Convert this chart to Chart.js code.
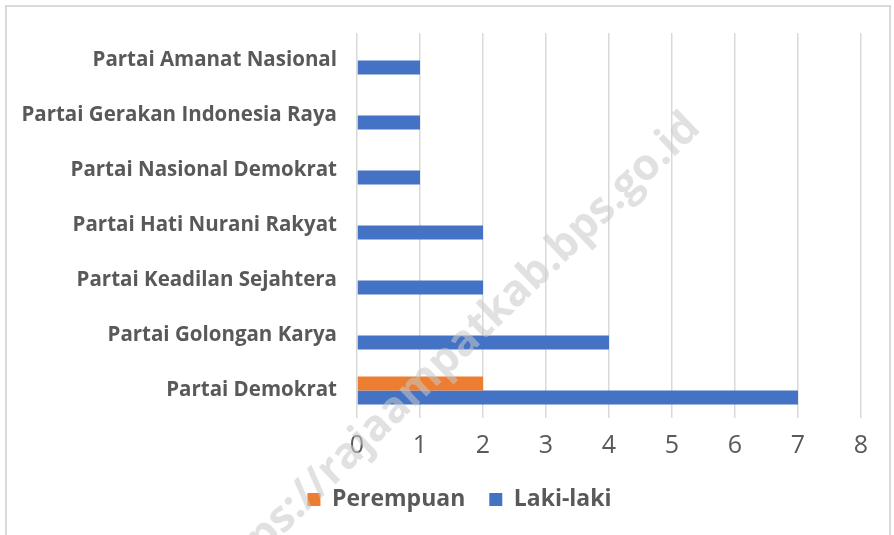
<!DOCTYPE html>
<html lang="id">
<head>
  <meta charset="UTF-8" />
  <title>Anggota DPRD menurut Partai dan Jenis Kelamin</title>
  <script src="https://cdn.jsdelivr.net/npm/chart.js"></script>
  <style>
    body { margin:0; background:#fff; }
    #wrap { position:relative; width:894px; height:535px; overflow:hidden; }
    #frame { position:absolute; left:5px; top:5px; width:886px; height:540px; border:2px solid #d9d9d9; box-sizing:border-box; }
    canvas { position:absolute; left:0; top:0; }
  </style>
</head>
<body>
  <div id="wrap">
    <div id="frame"></div>
    <canvas id="chart" width="894" height="535"></canvas>
  </div>

  <script>
    const partai = [
      'Partai Amanat Nasional',
      'Partai Gerakan Indonesia Raya',
      'Partai Nasional Demokrat',
      'Partai Hati Nurani Rakyat',
      'Partai Keadilan Sejahtera',
      'Partai Golongan Karya',
      'Partai Demokrat'
    ];
    const perempuan = [0, 0, 0, 0, 0, 0, 2];
    const lakiLaki = [1, 1, 1, 2, 2, 4, 7];
    const xTicks = [0, 1, 2, 3, 4, 5, 6, 7, 8];
    const watermark = 'https://rajaampatkab.bps.go.id';

    const grey = '#595959';

    // faint diagonal site stamp drawn over the chart
    const stampPlugin = {
      id: 'stamp',
      beforeDraw(chart) {
        // legend sits a little right of the canvas centre in the original
        chart.legend.left = 58;
      },
      afterDraw(chart) {
        const ctx = chart.ctx;
        ctx.save();
        ctx.font = 'bold 40px "Open Sans"';
        const tail = ctx.measureText('s://rajaampatkab.bps.go.id').width;
        const size = 40 * 583 / tail;
        ctx.font = 'bold ' + size + 'px "Open Sans"';
        ctx.translate(702, 130);
        ctx.rotate(-44 * Math.PI / 180);
        ctx.textAlign = 'right';
        ctx.textBaseline = 'alphabetic';
        ctx.fillStyle = 'rgba(200,200,200,0.55)';
        ctx.fillText(watermark, 0, 0);
        ctx.restore();
      }
    };

    new Chart(document.getElementById('chart'), {
      type: 'bar',
      data: {
        labels: partai,
        datasets: [
          { label: 'Perempuan', data: perempuan, backgroundColor: '#ED7D31' },
          { label: 'Laki-laki', data: lakiLaki, backgroundColor: '#4472C4' }
        ]
      },
      options: {
        indexAxis: 'y',
        responsive: false,
        animation: false,
        datasets: { bar: { categoryPercentage: 0.51, barPercentage: 1 } },
        layout: { padding: { top: 33, right: 33, bottom: 14, left: 0 } },
        scales: {
          x: {
            min: 0, max: 8,
            afterBuildTicks: s => { s.ticks = xTicks.map(v => ({ value: v })); },
            afterFit: s => { s.height = 46; },
            grid: { color: '#d9d9d9', lineWidth: 1.5, drawTicks: false },
            border: { display: false },
            ticks: { color: grey, padding: 13, font: { family: "'Liberation Sans Narrow', 'Open Sans'", size: 25 } }
          },
          y: {
            afterFit: s => { s.width = 357; },
            grid: { display: false, drawTicks: false },
            border: { display: false },
            ticks: { color: grey, padding: 20, font: { family: 'Open Sans', size: 20.5, weight: 'bold' } }
          }
        },
        plugins: {
          legend: {
            position: 'bottom',
            labels: { color: grey, boxWidth: 13, boxHeight: 13, padding: 24, font: { family: 'Open Sans', size: 23, weight: 'bold' } }
          },
          tooltip: { enabled: false }
        }
      },
      plugins: [stampPlugin]
    });
  </script>
</body>
</html>
